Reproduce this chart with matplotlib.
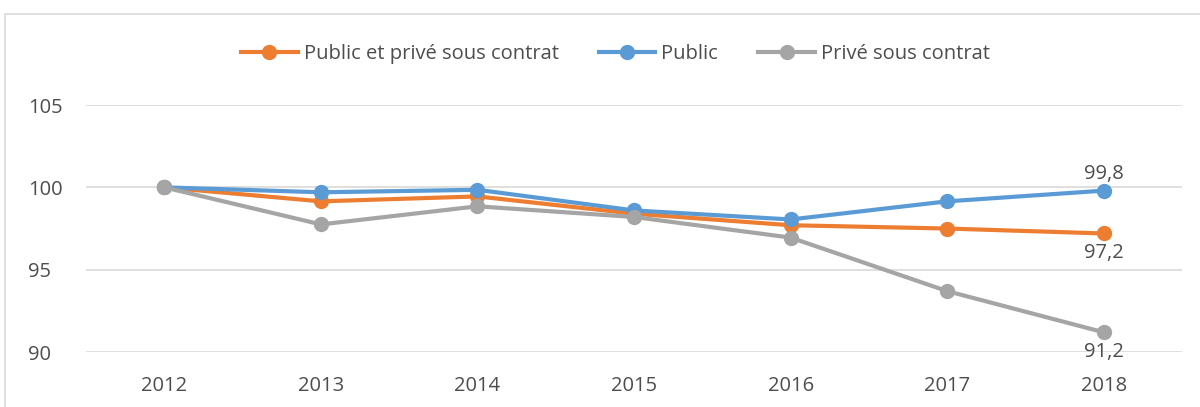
import matplotlib.pyplot as plt
from matplotlib.patches import Rectangle

years = ['2012', '2013', '2014', '2015', '2016', '2017', '2018']
public_prive = [100, 99.15, 99.45, 98.4, 97.7, 97.5, 97.2]
public = [100, 99.7, 99.85, 98.6, 98.05, 99.15, 99.8]
prive = [100, 97.75, 98.85, 98.2, 96.95, 93.7, 91.2]

text_color = '#4d4d4d'
plt.rcParams['font.family'] = ['Open Sans', 'DejaVu Sans']

fig = plt.figure(figsize=(12, 4.07), dpi=100)
ax = fig.add_axes([0.0717, 0.135, 0.9133, 0.607])

# outer chart frame
fig.patches.append(Rectangle((5 / 1200, -0.1), 1.1, 0.9656 + 0.1, transform=fig.transFigure,
                             fill=False, edgecolor='#d9d9d9', linewidth=1.2))

x = range(len(years))
ax.plot(x, public_prive, color='#ED7D31', lw=3, marker='o', ms=10, label='Public et privé sous contrat', zorder=3)
ax.plot(x, public, color='#5B9BD5', lw=3, marker='o', ms=10, label='Public', zorder=3)
ax.plot(x, prive, color='#A5A5A5', lw=3, marker='o', ms=10, label='Privé sous contrat', zorder=3)

ax.set_xlim(-0.5, len(years) - 0.5)
ax.set_ylim(90, 105)
ax.set_yticks([90, 95, 100, 105])
ax.set_xticks(list(x))
ax.set_xticklabels(years)
ax.grid(axis='y', color='#d9d9d9', lw=1.2)
ax.set_axisbelow(True)
for s in ax.spines.values():
    s.set_visible(False)
ax.tick_params(length=0, labelsize=14.5, colors=text_color)
ax.tick_params(axis='x', pad=17)
ax.tick_params(axis='y', pad=42)
for lbl in ax.get_yticklabels():
    lbl.set_horizontalalignment('left')

# data labels on the last year
ax.annotate('99,8', (6, public[-1]), xytext=(0, 5), textcoords='offset points',
            ha='center', va='bottom', fontsize=14.5, color=text_color)
ax.annotate('97,2', (6, public_prive[-1]), xytext=(0, -7), textcoords='offset points',
            ha='center', va='top', fontsize=14.5, color=text_color)
ax.annotate('91,2', (6, prive[-1]), xytext=(0, -7), textcoords='offset points',
            ha='center', va='top', fontsize=14.5, color=text_color)

leg = fig.legend(loc='center', bbox_to_anchor=(0.513, 0.868), ncol=3, frameon=False,
                 fontsize=14.5, handlelength=2.8, columnspacing=2.0, handletextpad=0.3)
for t in leg.get_texts():
    t.set_color(text_color)

fig.savefig('out.png', dpi=100)
